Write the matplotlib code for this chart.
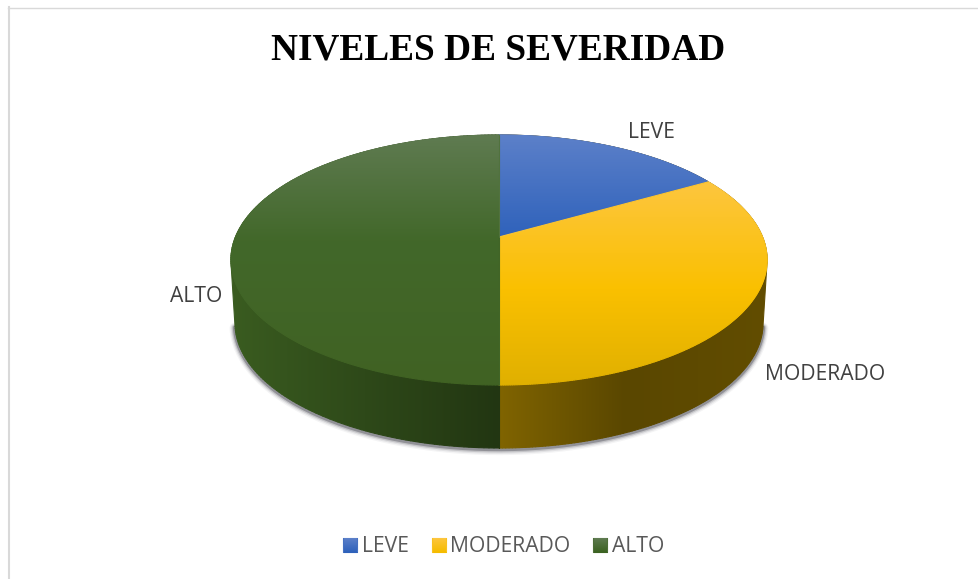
import numpy as np
import matplotlib
matplotlib.use("Agg")
import matplotlib.pyplot as plt
from matplotlib.collections import LineCollection
from matplotlib.colors import to_rgb
from matplotlib.patches import Polygon

# data
title = "NIVELES DE SEVERIDAD"
categories = ["LEVE", "MODERADO", "ALTO"]
values = [16.7, 33.3, 50.0]

# style
top_stops = [
    [(135, "#5c80c9"), (237, "#2f62bb")],
    [(182, "#fdc63f"), (290, "#fac000"), (385, "#e0b000")],
    [(135, "#5f7b51"), (240, "#42682a"), (385, "#406223")],
]
wall_stops = [
    [(499, "#5a4700"), (770, "#5a4700")],
    [(499, "#806400"), (625, "#5a4700"), (770, "#624d00")],
    [(230, "#3a5c20"), (499, "#223612")],
]
swatch_colors = [("#5c80c9", "#2f62bb"), ("#fdc63f", "#f5bc00"), ("#5f7b51", "#3c6322")]
CX, CY, A, B, Q, K = 499.0, 260.0, 263.5, 125.0, 23.0, 0.184
DEPTH, SHRINK = 63.0, 0.985

fig = plt.figure(figsize=(9.79, 5.79), dpi=100)
ax = fig.add_axes([0, 0, 1, 1])
ax.set_xlim(0, 979)
ax.set_ylim(579, 0)
ax.axis("off")


def rim(theta, lower=False):
    u, v = np.sin(theta), np.cos(theta)
    w = 1 + K * v
    x, y = A * u / w, CY - (B * v + Q) / w
    if lower:
        return np.column_stack([CX + x * SHRINK, y + DEPTH])
    return np.column_stack([CX + x, y])


def hull(points):
    pts = sorted(set(map(tuple, np.round(points, 3))))

    def half(seq):
        out = []
        for p in seq:
            while len(out) > 1 and ((out[-1][0] - out[-2][0]) * (p[1] - out[-2][1])
                                    - (out[-1][1] - out[-2][1]) * (p[0] - out[-2][0])) <= 0:
                out.pop()
            out.append(p)
        return out[:-1]

    return np.array(half(pts) + half(pts[::-1]))


def ramp(stops, pos):
    ps = [s[0] for s in stops]
    cs = np.array([to_rgb(s[1]) for s in stops])
    return np.column_stack([np.interp(pos, ps, cs[:, i]) for i in range(3)])


def gradient_poly(pts, stops, axis, zorder):
    """Fill a polygon with a linear gradient (axis 1 = vertical, 0 = horizontal)."""
    lo, hi = pts.min(axis=0), pts.max(axis=0)
    n = 400
    pos = np.linspace(lo[axis], hi[axis], n)
    col = ramp(stops, pos)
    img = col[:, None, :] if axis == 1 else col[None, :, :]
    im = ax.imshow(img, extent=(lo[0], hi[0], hi[1], lo[1]), origin="upper",
                   aspect="auto", zorder=zorder, interpolation="bilinear")
    clip = Polygon(pts, closed=True, transform=ax.transData, fc="none", ec="none")
    ax.add_patch(clip)
    im.set_clip_path(clip)
    closed = np.vstack([pts, pts[:1]])
    segs = np.stack([closed[:-1], closed[1:]], axis=1)
    mids = segs.mean(axis=1)[:, axis]
    ax.add_collection(LineCollection(segs, colors=ramp(stops, mids), linewidths=0.8,
                                     zorder=zorder + 0.1, capstyle="round"))


# slice limits, clockwise from the top
edges = 2 * np.pi * np.cumsum([0] + values) / np.sum(values)
apex = np.array([[CX, CY - Q]])

# shadow under the body
full = np.linspace(0, 2 * np.pi, 480)
outline = hull(np.vstack([rim(full), rim(full, lower=True)]))
lower_side = outline[outline[:, 1] > CY + 25]
lower_side = lower_side[np.argsort(lower_side[:, 0])]
for lw, alpha, dy in [(8.0, 0.05, 1.6), (6.4, 0.09, 1.4), (4.8, 0.17, 1.2), (3.2, 0.34, 1.0)]:
    ax.plot(lower_side[:, 0], lower_side[:, 1] + dy, color="#30303c", lw=lw, alpha=alpha,
            solid_capstyle="round", zorder=1)

# outer walls (the back ones are covered by the top face)
for i in range(len(values)):
    th = np.linspace(edges[i], edges[i + 1], 200)
    wall = hull(np.vstack([rim(th), rim(th, lower=True)]))
    gradient_poly(wall, wall_stops[i], 0, 2 + i * 0.2)

# top faces
for i in range(len(values)):
    th = np.linspace(edges[i], edges[i + 1], 300)
    face = np.vstack([apex, rim(th)])
    gradient_poly(face, top_stops[i], 1, 4 + i * 0.2)

# chart frame
ax.plot([9, 9], [7, 579], color="#d9d9d9", lw=1.5, zorder=0)
ax.plot([8, 979], [7.7, 7.7], color="#d9d9d9", lw=1.0, zorder=0)

# title
ax.text(498.5, 49.5, title, family="Liberation Serif", fontweight="bold", fontsize=26.9,
        color="black", ha="center", va="center")

# slice labels
label_pos = [(651, 133), (825, 375), (196, 297)]
for name, (x, y) in zip(categories, label_pos):
    ax.text(x, y, name, family="Open Sans", fontsize=15.2, color="#404040",
            ha="center", va="center")

# legend
swatch_x = [343, 432, 593]
text_x = [362, 450, 612]
for name, sx, tx, (c1, c2) in zip(categories, swatch_x, text_x, swatch_colors):
    sq = np.array([[sx, 538], [sx + 14, 538], [sx + 14, 552], [sx, 552]], float)
    gradient_poly(sq, [(538, c1), (552, c2)], 1, 6)
    ax.text(tx, 547, name, family="Open Sans", fontsize=15.2, color="#595959",
            ha="left", va="center")

ax.set_xlim(0, 979)
ax.set_ylim(579, 0)
fig.savefig("out.png", dpi=100, facecolor="white")
